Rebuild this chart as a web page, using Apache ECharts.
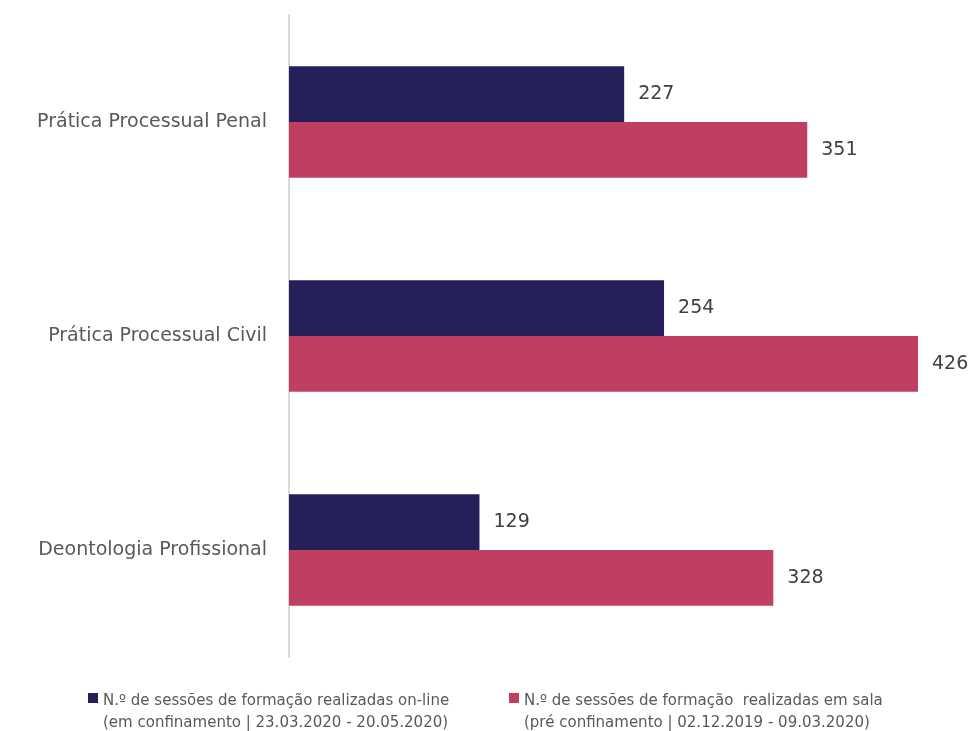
<!DOCTYPE html>
<html>
<head>
<meta charset="utf-8">
<script src="https://cdn.jsdelivr.net/npm/echarts@6/dist/echarts.min.js"></script>
<style>
  html, body { margin: 0; padding: 0; background: #fff; }
  #chart { width: 972px; height: 731px; }
</style>
</head>
<body>
<div id="chart"></div>
<script>
// categories, bottom to top
const categories = ['Deontologia Profissional', 'Prática Processual Civil', 'Prática Processual Penal'];
const onlineValues = [129, 254, 227];
const salaValues = [328, 426, 351];
const onlineName = 'N.º de sessões de formação realizadas on-line\n(em confinamento | 23.03.2020 - 20.05.2020)';
const salaName = 'N.º de sessões de formação  realizadas em sala\n(pré confinamento | 02.12.2019 - 09.03.2020)';

const font = 'DejaVu Sans';
// square next to the first line of a two-line legend label
const legendIcon = 'path://M0,0h0.01v0.01h-0.01z M0,3h10v10h-10z M0,44h0.01v0.01h-0.01z';
const legendText = { color: '#595959', fontSize: 15, fontFamily: font, lineHeight: 22 };

let chart = echarts.init(document.getElementById('chart'));
chart.setOption({
  backgroundColor: '#fff',
  animation: false,
  grid: { left: 289, right: 54, top: 15, bottom: 74, containLabel: false },
  xAxis: {
    type: 'value',
    min: 0,
    max: 426,
    show: false
  },
  yAxis: {
    type: 'category',
    data: categories,
    axisLine: { show: true, lineStyle: { color: '#d9d9d9', width: 2 } },
    axisTick: { show: false },
    axisLabel: { color: '#595959', fontSize: 19, fontFamily: font, margin: 22 }
  },
  legend: [
    {
      data: [onlineName],
      left: 88, top: 690, padding: 0,
      icon: legendIcon, itemWidth: 10, itemHeight: 44,
      textStyle: legendText
    },
    {
      data: [salaName],
      left: 509, top: 690, padding: 0,
      icon: legendIcon, itemWidth: 10, itemHeight: 44,
      textStyle: legendText
    }
  ],
  series: [
    {
      name: onlineName,
      type: 'bar',
      data: onlineValues,
      barGap: '0%',
      barCategoryGap: '48%',
      itemStyle: { color: '#25205A' },
      label: { show: true, position: 'right', distance: 14, color: '#404040', fontSize: 19, fontFamily: font }
    },
    {
      name: salaName,
      type: 'bar',
      data: salaValues,
      itemStyle: { color: '#C03F61' },
      label: { show: true, position: 'right', distance: 14, color: '#404040', fontSize: 19, fontFamily: font }
    }
  ]
});
</script>
</body>
</html>
